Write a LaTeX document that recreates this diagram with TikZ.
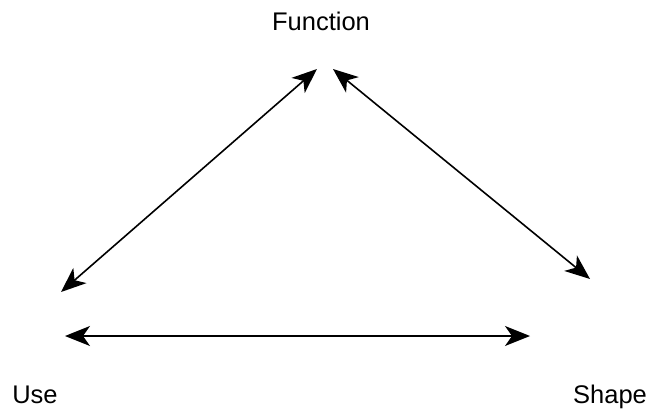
\documentclass[tikz,border=0pt]{standalone}
\usepackage{fontspec}
\setmainfont{Liberation Sans}
\usetikzlibrary{arrows.meta}
\begin{document}
\begin{tikzpicture}[x=1pt,y=-1pt,
  lbl/.style={font=\fontsize{25.5}{29}\selectfont, inner sep=0pt, anchor=base},
  dbl/.style={line width=1.6pt, {Stealth[length=25pt,width=20pt,inset=7pt]}-{Stealth[length=25pt,width=20pt,inset=7pt]}}]
\useasboundingbox (0,0) rectangle (652,409);
\node[lbl] (function) at (321,31) {Function};
\node[lbl] (use) at (35,403) {Use};
\node[lbl] (shape) at (610,403) {Shape};
\coordinate (a1) at (61,292);
\coordinate (a2) at (317,69);
\coordinate (b1) at (333,69);
\coordinate (b2) at (590,279);
\coordinate (c1) at (65,336);
\coordinate (c2) at (530,336);
\draw[dbl] (a1) -- (a2);
\draw[dbl] (b1) -- (b2);
\draw[dbl] (c1) -- (c2);
\end{tikzpicture}
\end{document}
